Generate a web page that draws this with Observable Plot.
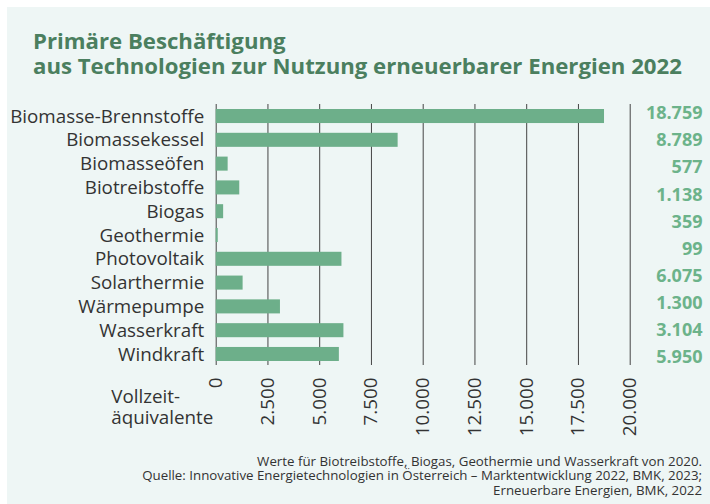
<!DOCTYPE html>
<html>
<head>
<meta charset="utf-8">
<script src="https://cdn.jsdelivr.net/npm/d3@7"></script>
<script src="https://cdn.jsdelivr.net/npm/@observablehq/plot@0.6"></script>
<style>
  body { margin: 0; background: #fff; }
  #wrap { position: relative; width: 710px; height: 504px; background: #fff; overflow: hidden; font-family: "Open Sans", sans-serif; }
  #panel { position: absolute; left: 7px; top: 7px; right: 0; bottom: 0; background: #eef6f5; }
  #title { position: absolute; left: 33px; top: 28px; font-size: 22.2px; line-height: 25px; font-weight: 700; color: #4b7f5f; white-space: nowrap; }
  #caption { position: absolute; right: 8px; top: 454px; font-size: 13.3px; line-height: 14.3px; color: #333; text-align: right; white-space: nowrap; }
  .layer { position: absolute; left: 0; top: 0; }
</style>
</head>
<body>
<div id="wrap">
  <div id="panel"></div>
  <div id="title"></div>
  <div id="main" class="layer"></div>
  <div id="labels" class="layer"></div>
  <div id="caption"></div>
</div>
<script>
const titleLines = ["Primäre Beschäftigung", "aus Technologien zur Nutzung erneuerbarer Energien 2022"];
const captionLines = [
  "Werte für Biotreibstoffe, Biogas, Geothermie und Wasserkraft von 2020.",
  "Quelle: Innovative Energietechnologien in Österreich – Marktentwicklung 2022, BMK, 2023;",
  "Erneuerbare Energien, BMK, 2022"
];
const xAxisLabel = "Vollzeit-\näquivalente";

const categories = ["Biomasse-Brennstoffe", "Biomassekessel", "Biomasseöfen", "Biotreibstoffe", "Biogas", "Geothermie", "Photovoltaik", "Solarthermie", "Wärmepumpe", "Wasserkraft", "Windkraft"];
const values = [18759, 8789, 577, 1138, 359, 99, 6075, 1300, 3104, 6170, 5950];
// value column as printed at the right (one entry fewer than bars)
const labelValues = [18759, 8789, 577, 1138, 359, 99, 6075, 1300, 3104, 5950];
const xTicks = [0, 2500, 5000, 7500, 10000, 12500, 15000, 17500, 20000];

const de = d3.formatLocale({decimal: ",", thousands: ".", grouping: [3], currency: ["", " €"]});
const fmt = de.format(",d");

document.getElementById("title").innerHTML = titleLines.join("<br>");
document.getElementById("caption").innerHTML = captionLines.join("<br>");

const data = categories.map((c, i) => ({cat: c, value: values[i]}));

const main = Plot.plot({
  width: 710,
  height: 504,
  marginLeft: 215.7,
  marginRight: 80.3,
  marginTop: 104,
  marginBottom: 139,
  style: {background: "transparent", fontFamily: "Open Sans", fontSize: "18.8px", color: "#333", overflow: "visible"},
  x: {domain: [0, 20000], axis: null},
  y: {domain: categories, paddingInner: 0.41, paddingOuter: 0, round: false, insetTop: 5, insetBottom: 4, axis: null},
  marks: [
    Plot.gridX(xTicks, {stroke: "#444", strokeOpacity: 1, strokeWidth: 1}),
    Plot.barX(data, {x: "value", y: "cat", fill: "#6daf8a"}),
    Plot.axisY({tickSize: 0, tickPadding: 12, fontSize: 18.8, fill: "#333", label: null}),
    Plot.axisX(xTicks, {tickSize: 0, tickPadding: 12, tickRotate: -90, tickFormat: fmt, fontSize: 18.8, fill: "#333", label: null}),
    Plot.text([xAxisLabel], {frameAnchor: "bottom-left", dx: -105, dy: 23, textAnchor: "start", lineAnchor: "top", lineHeight: 1.1, fontSize: 18.8, fill: "#333"})
  ]
});
document.getElementById("main").appendChild(main);

const labels = Plot.plot({
  width: 710,
  height: 504,
  margin: 0,
  style: {background: "transparent", fontFamily: "Open Sans", overflow: "visible"},
  x: {domain: [0, 1], axis: null},
  y: {type: "point", domain: d3.range(labelValues.length), range: [113, 357], padding: 0, round: false, axis: null},
  marks: [
    Plot.text(labelValues, {y: (d, i) => i, frameAnchor: "right", dx: -8, textAnchor: "end", text: d => fmt(d), fill: "#6cb38a", fontWeight: "bold", fontSize: 18})
  ]
});
document.getElementById("labels").appendChild(labels);
</script>
</body>
</html>
